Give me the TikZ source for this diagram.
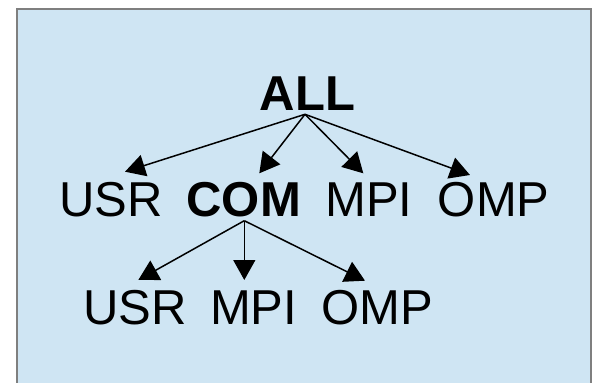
\documentclass[tikz,border=0pt]{standalone}
\usepackage{fontspec}
\setmainfont{Liberation Sans}
\usetikzlibrary{arrows.meta}
\definecolor{bgblue}{HTML}{CFE5F3}
\definecolor{frame}{HTML}{7F7F7F}
\begin{document}
\begin{tikzpicture}[x=1pt,y=-1pt,
  lbl/.style={anchor=base,inner sep=0pt,font=\fontsize{49}{50}\selectfont},
  blbl/.style={lbl,font=\fontsize{49}{50}\selectfont\bfseries},
  arr/.style={line width=1.5pt,-{Triangle[length=20pt,width=22pt]}}]
\useasboundingbox (0,0) rectangle (592,383);
\fill[bgblue] (17,9) rectangle (591,392);
\draw[frame,line width=2pt] (17,392) -- (17,9) -- (591,9) -- (591,392);
% nodes
\node[blbl] (all) at (307.5,110) {ALL};
\node[lbl] (usr2) at (111.3,216.7) {USR};
\node[blbl] (com) at (243.7,216.7) {COM};
\node[lbl] (mpi2) at (369,216.7) {MPI};
\node[lbl] (omp2) at (493.8,216.7) {OMP};
\node[lbl] (usr3) at (135,324.3) {USR};
\node[lbl] (mpi3) at (253.7,324.3) {MPI};
\node[lbl] (omp3) at (377.2,324.3) {OMP};
% connector points
\coordinate (allp) at (305,114.3);
\coordinate (comp) at (244.3,220.7);
\coordinate (tusr2) at (125,171.7);
\coordinate (tcom) at (259.3,173.3);
\coordinate (tmpi2) at (363.3,173.3);
\coordinate (tomp2) at (470,175);
\coordinate (tusr3) at (138.3,280);
\coordinate (tmpi3) at (244.3,280);
\coordinate (tomp3) at (365,280.7);
\draw[arr] (allp) -- (tusr2);
\draw[arr] (allp) -- (tcom);
\draw[arr] (allp) -- (tmpi2);
\draw[arr] (allp) -- (tomp2);
\draw[arr] (comp) -- (tusr3);
\draw[arr] (comp) -- (tmpi3);
\draw[arr] (comp) -- (tomp3);
\end{tikzpicture}
\end{document}
